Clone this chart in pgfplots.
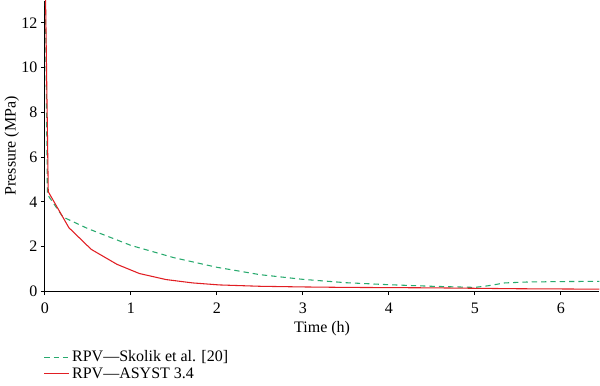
\documentclass[border=0pt]{standalone}
\usepackage{pgfplots}
\pgfplotsset{compat=1.18}
\usepackage{fontspec}
\setmainfont{Liberation Serif}
\definecolor{cgreen}{RGB}{40,170,110}
\definecolor{cred}{RGB}{225,30,35}
\begin{document}
\begin{tikzpicture}
\begin{axis}[
  scale only axis,
  width=416pt, height=218pt,
  xmin=0, xmax=6.45, ymin=0, ymax=13,
  axis x line=bottom, axis y line=left,
  axis line style={-, line width=0.8pt},
  tick align=outside,
  major tick length=3pt,
  tick style={line width=0.7pt, black},
  xtick={0,1,2,3,4,5,6},
  ytick={0,2,4,6,8,10,12},
  /pgf/number format/assume math mode=true,
  tick label style={font=\fontsize{12}{14}\selectfont},
  label style={font=\fontsize{12}{14}\selectfont},
  xticklabel style={yshift=-2pt},
  yticklabel style={xshift=1pt},
  xlabel={Time (h)},
  ylabel={Pressure (MPa)},
  xlabel style={yshift=1pt},
  ylabel style={yshift=-5pt},
  legend style={draw=none, at={(axis description cs:0,-0.185)}, anchor=north west, xshift=-4pt,
    font=\fontsize{12}{14}\selectfont, row sep=-1pt, legend cell align=left},
  legend image code/.code={\draw[#1] (0cm,0cm) -- (0.65cm,0cm);},
]
\addplot[cgreen, dash pattern=on 4pt off 3pt, line width=0.8pt] coordinates {
(0,15.5)(0.03,4.33)(0.21,3.32)(0.5,2.8)(1,2.05)(1.5,1.5)(2,1.07)(2.5,0.74)(3,0.53)(3.5,0.38)(4,0.29)(4.5,0.22)(5,0.17)(5.15,0.24)(5.35,0.37)(5.6,0.41)(6,0.43)(6.45,0.44)};
\addlegendentry{RPV---Skolik et al. [20]}
\addplot[cred, line width=0.8pt] coordinates {
(0,15.5)(0.04,4.45)(0.28,2.84)(0.54,1.87)(0.84,1.2)(1.1,0.79)(1.41,0.52)(1.72,0.37)(2.03,0.28)(2.5,0.22)(3,0.19)(3.5,0.17)(4,0.16)(4.5,0.15)(5,0.13)(5.5,0.11)(6,0.1)(6.45,0.09)};
\addlegendentry{RPV---ASYST 3.4}
\end{axis}
\end{tikzpicture}
\end{document}
